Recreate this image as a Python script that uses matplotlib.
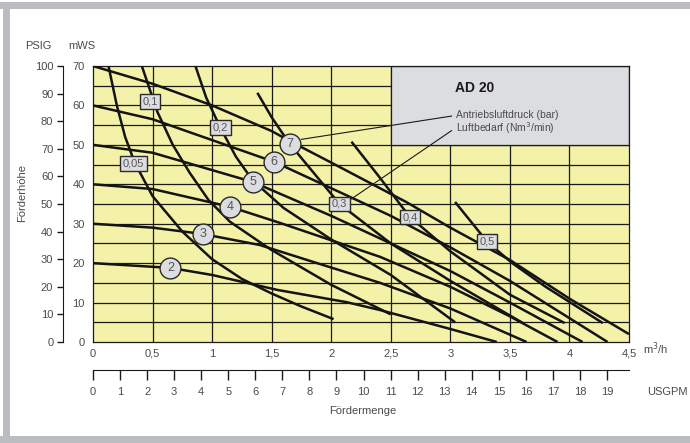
import numpy as np
import matplotlib.pyplot as plt
from matplotlib.patches import Rectangle

plt.rcParams['font.family'] = ['Liberation Sans', 'DejaVu Sans']

# Pumpenkennlinien je Antriebsluftdruck (bar): Förderstrom m3/h -> Förderhöhe mWS
P2_Q = [0, 0.65, 1.0, 1.55, 2.13, 2.41, 3.0, 3.39]
P2_H = [20, 18.8, 17.0, 13.2, 10.1, 8.1, 3.3, 0]
P3_Q = [0, 0.5, 0.92, 1.4, 1.85, 2.41, 3.0, 3.64]
P3_H = [30, 29.0, 27.4, 24.6, 20.3, 15.0, 8.5, 0]
P4_Q = [0, 0.5, 1.15, 1.57, 2.41, 3.0, 3.5, 3.9]
P4_H = [40, 38.8, 34.3, 30.2, 21.6, 14.0, 6.5, 0]
P5_Q = [0, 0.5, 1.34, 2.0, 2.5, 3.0, 3.5, 4.11]
P5_H = [50, 48.0, 40.6, 32.0, 25.0, 18.0, 10.0, 0]
P6_Q = [0, 0.5, 1.52, 2.0, 2.5, 3.0, 3.5, 4.32]
P6_H = [60, 56.5, 45.7, 39.0, 32.0, 24.0, 15.5, 0]
P7_Q = [0, 0.5, 1.0, 1.5, 1.65, 2.0, 2.63, 3.0, 3.5, 4.0, 4.5]
P7_H = [70, 65.5, 60.0, 53.5, 51.0, 45.5, 35.5, 29.0, 20.8, 11.0, 2.0]

# Luftbedarf (Nm3/min)
L005_Q = [0.13, 0.2, 0.27, 0.35, 0.5, 0.75, 1.0, 1.25, 1.5, 1.75, 2.02]
L005_H = [70, 60, 52, 45.5, 37, 28, 21, 16, 12.3, 9, 5.8]
L01_Q = [0.41, 0.54, 0.67, 0.81, 0.97, 1.15, 1.49, 2.0, 2.5]
L01_H = [70, 58.4, 50, 43, 36, 30.5, 23.5, 14.5, 7]
L02_Q = [0.86, 0.95, 1.07, 1.2, 1.34, 1.6, 2.0, 2.5, 3.04]
L02_H = [70, 62, 54.3, 47, 41, 34, 26, 17, 5]
L03_Q = [1.38, 1.5, 1.65, 1.85, 2.07, 2.5, 3.0, 3.61]
L03_H = [63.2, 57, 50.3, 43, 35, 25, 15.5, 4.8]
L04_Q = [2.17, 2.4, 2.66, 3.0, 3.5, 3.96]
L04_H = [50.8, 42, 31.7, 23, 12, 4.8]
L05_Q = [3.04, 3.31, 3.52, 3.8, 4.28]
L05_H = [35.5, 25.4, 20, 14, 4.8]

PRESSURES = ['2', '3', '4', '5', '6', '7']
PRESSURE_POS = [(0.65, 18.8), (0.92, 27.4), (1.15, 34.3), (1.34, 40.6), (1.52, 45.7), (1.65, 50.3)]
AIR_LABELS = ['0,05', '0,1', '0,2', '0,3', '0,4', '0,5']
AIR_POS = [(0.34, 45.2), (0.48, 60.9), (1.07, 54.3), (2.07, 35.0), (2.66, 31.7), (3.31, 25.6)]

Q_TICKS = [0, 0.5, 1, 1.5, 2, 2.5, 3, 3.5, 4, 4.5]
Q_LABELS = ['0', '0,5', '1', '1,5', '2', '2,5', '3', '3,5', '4', '4,5']
MWS_TICKS = [0, 10, 20, 30, 40, 50, 60, 70]
PSIG_TICKS = [0, 10, 20, 30, 40, 50, 60, 70, 80, 90, 100]
GPM_TICKS = list(range(20))

GPM_PER_M3H = 4.40287
TXT = '#4a4a4a'
INK = '#1a1a1a'
YELLOW = '#f4f1a8'
GREY = '#dcdde0'
FS = 8

fig = plt.figure(figsize=(6.9, 4.43), dpi=100)
# grauer Rahmen oben, links, unten
W, H = 690, 443
for x0, y0, w, h in [(0, H - 9, W, 7), (3, 0, 7, H - 2), (0, 0, W, 7)]:
    fig.patches.append(Rectangle((x0 / W, y0 / H), w / W, h / H, transform=fig.transFigure,
                                 facecolor='#bbbcc0', edgecolor='none', zorder=0))

ax = fig.add_axes([93 / W, 1 - 342 / H, 536 / W, 276 / H])
ax.set_facecolor(YELLOW)
ax.set_xlim(0, 4.5)
ax.set_ylim(0, 70)

for x in np.arange(0.5, 4.5, 0.5):
    ax.axvline(x, color=INK, lw=0.9, zorder=1)
for y in np.arange(5, 70, 5):
    ax.axhline(y, color=INK, lw=0.9, zorder=1)

# Infofeld
ax.add_patch(Rectangle((2.5, 50), 2.0, 20, facecolor=GREY, edgecolor=INK, lw=0.9, zorder=2))
ax.text(3.04, 64.4, 'AD 20', fontsize=10, fontweight='bold', color=INK, va='center', zorder=6)
ax.text(3.05, 57.6, 'Antriebsluftdruck (bar)', fontsize=7.5, color=TXT, va='center', zorder=6)
ax.text(3.05, 54.2, 'Luftbedarf (Nm$^3$/min)', fontsize=7.5, color=TXT, va='center', zorder=6)
ax.plot([1.75, 3.01], [51.4, 57.3], color=INK, lw=0.8, zorder=5)
ax.plot([2.17, 3.01], [36.3, 53.6], color=INK, lw=0.8, zorder=5)

curves = [(P2_Q, P2_H), (P3_Q, P3_H), (P4_Q, P4_H), (P5_Q, P5_H), (P6_Q, P6_H), (P7_Q, P7_H),
          (L005_Q, L005_H), (L01_Q, L01_H), (L02_Q, L02_H), (L03_Q, L03_H), (L04_Q, L04_H),
          (L05_Q, L05_H)]
for q, h in curves:
    ax.plot(q, h, color='#141414', lw=1.8, solid_capstyle='butt', solid_joinstyle='round',
            zorder=4)

for lab, (x, y) in zip(PRESSURES, PRESSURE_POS):
    ax.plot(x, y, 'o', ms=15, mfc=GREY, mec='#2a2a2a', mew=1.0, zorder=7)
    ax.text(x, y, lab, fontsize=9, color='#555555', ha='center', va='center', zorder=8)
for lab, (x, y) in zip(AIR_LABELS, AIR_POS):
    ax.text(x, y, lab, fontsize=8, color='#555555', ha='center', va='center', zorder=8,
            bbox=dict(boxstyle='square,pad=0.22', facecolor=GREY, edgecolor='#2a2a2a', lw=1.0))

# mWS-Achse
ax.set_yticks(MWS_TICKS)
ax.tick_params(axis='y', length=0, pad=6, labelsize=FS, labelcolor=TXT)
ax.set_xticks(Q_TICKS)
ax.set_xticklabels(Q_LABELS)
ax.tick_params(axis='x', length=0, pad=5, labelsize=FS, labelcolor=TXT)
for s in ax.spines.values():
    s.set_color(INK)
    s.set_linewidth(0.9)

# PSIG-Achse links daneben
psig = ax.secondary_yaxis(-30 / 536, functions=(lambda m: m * 100 / 70, lambda p: p * 70 / 100))
psig.set_yticks(PSIG_TICKS)
psig.tick_params(axis='y', direction='out', length=4, width=1.0, pad=3, labelsize=FS,
                 labelcolor=TXT, color=INK)
psig.spines['left'].set_color(INK)

# USGPM-Skala unter der m3/h-Achse
gpm = ax.secondary_xaxis(-(370 - 342) / 276,
                         functions=(lambda q: q * GPM_PER_M3H, lambda g: g / GPM_PER_M3H))
gpm.set_xticks(GPM_TICKS)
gpm.tick_params(axis='x', direction='out', length=7, width=1.0, pad=5, labelsize=FS,
                labelcolor=TXT, color=INK)
gpm.spines['bottom'].set_color(INK)

fig.text(38 / W, 1 - 46 / H, 'PSIG', fontsize=FS, color=TXT, ha='center', va='center')
fig.text(82 / W, 1 - 46 / H, 'mWS', fontsize=FS, color=TXT, ha='center', va='center')
fig.text(22 / W, 1 - 193 / H, 'Förderhöhe', fontsize=FS, color=TXT, ha='center',
         va='center', rotation=90)
fig.text(643 / W, 1 - 349 / H, 'm$^3$/h', fontsize=FS, color=TXT, ha='left', va='center')
fig.text(647 / W, 1 - 392 / H, 'USGPM', fontsize=FS, color=TXT, ha='left', va='center')
fig.text(363 / W, 1 - 411 / H, 'Fördermenge', fontsize=FS, color=TXT, ha='center',
         va='center')

fig.savefig('out.png', dpi=100)
